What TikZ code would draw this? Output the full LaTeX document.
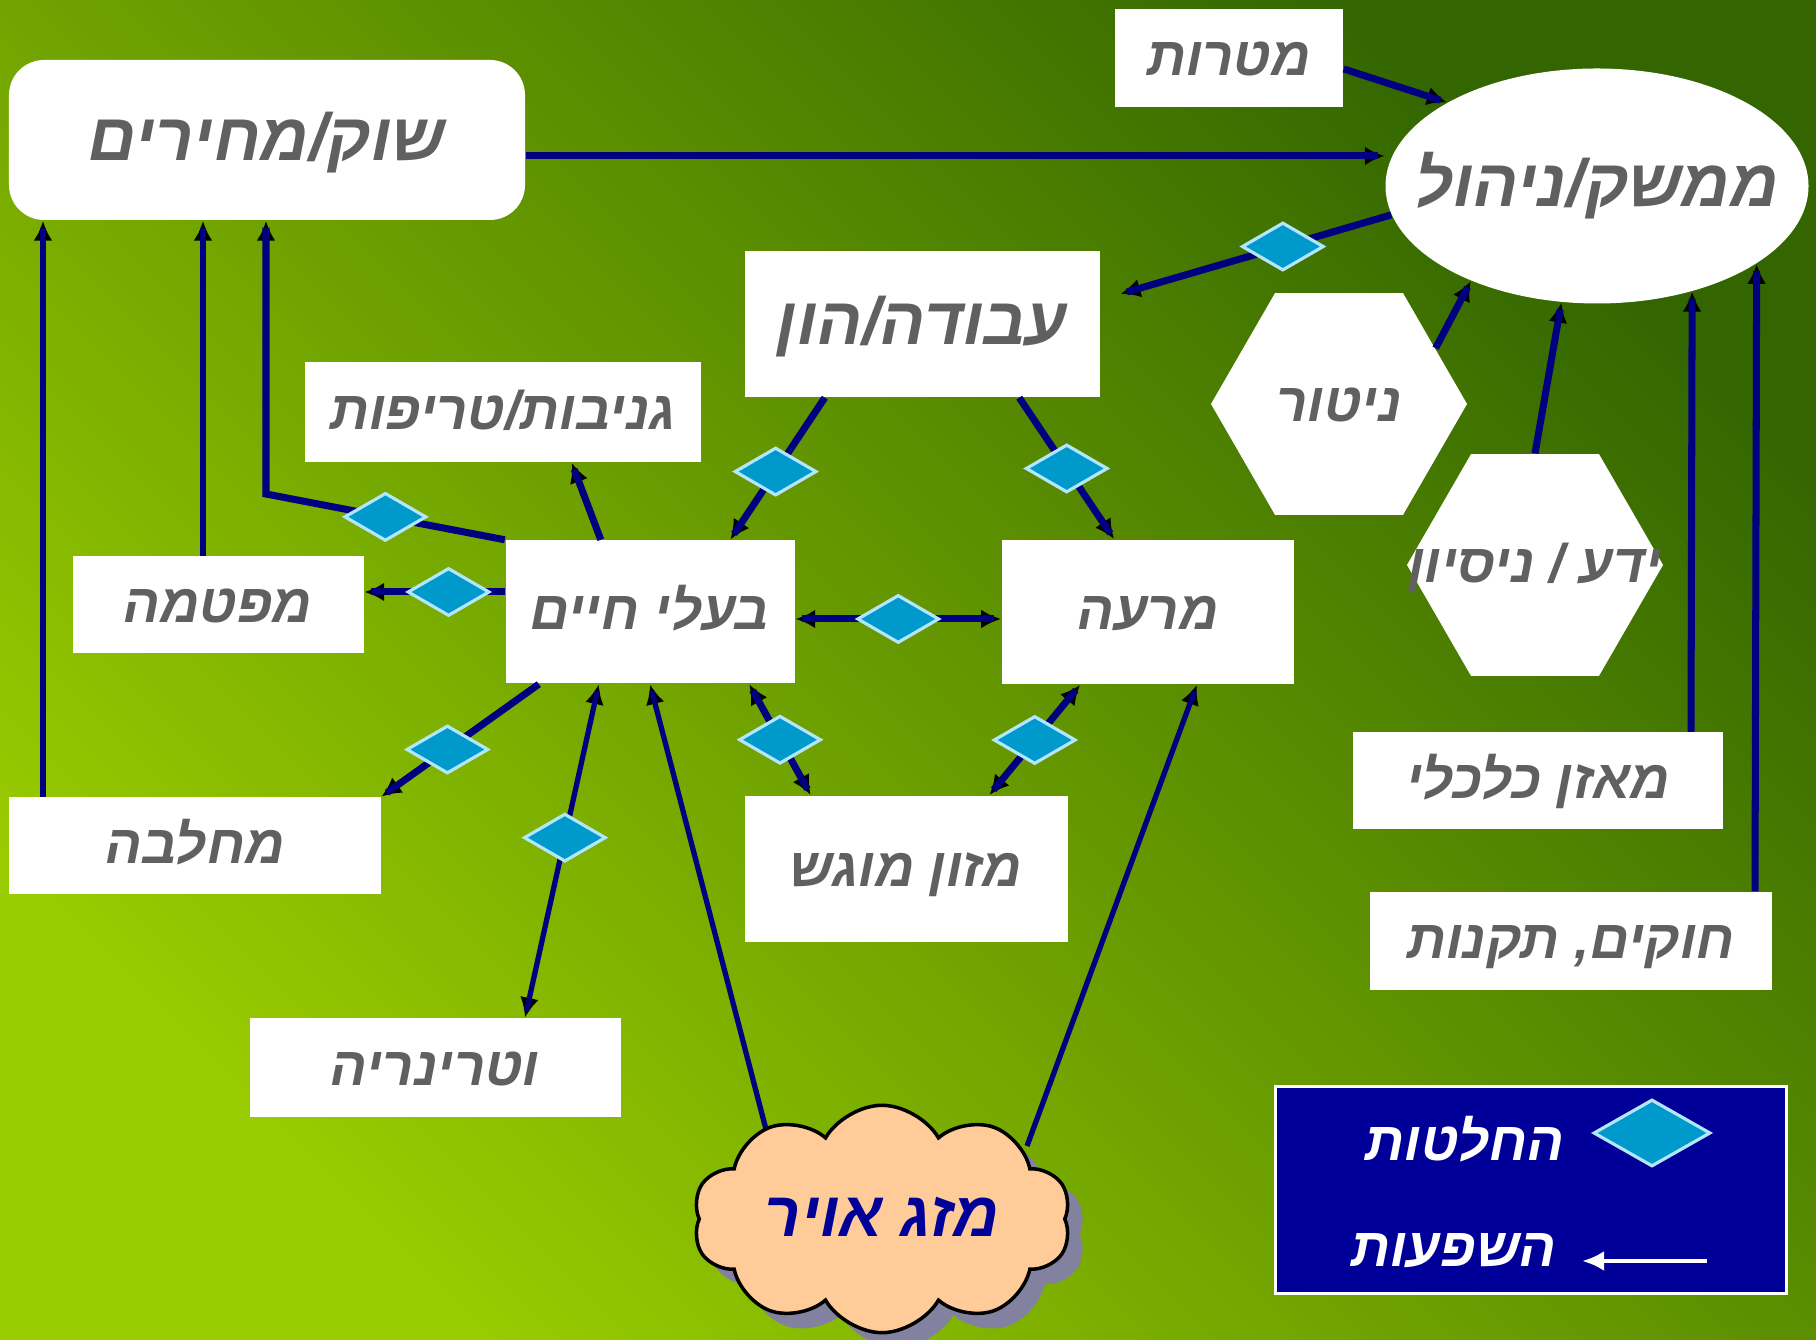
\documentclass[tikz,border=0pt]{standalone}
\usepackage{fontspec}
\usepackage{tikz}
\usetikzlibrary{positioning, shapes.geometric, shapes.symbols, arrows.meta, decorations.markings, shadows}
\newfontfamily\hebfont[Script=Hebrew]{Liberation Sans}
\TeXXeTstate=1
\newcommand{\heb}[1]{\hebfont\bfseries\itshape\beginR #1\endR}

\definecolor{bgdark}{RGB}{51,102,0}
\definecolor{bglight}{RGB}{153,204,0}
\definecolor{linkblue}{RGB}{0,0,128}
\definecolor{decblue}{RGB}{0,153,204}
\definecolor{labelgray}{RGB}{96,96,96}
\definecolor{cloudpeach}{RGB}{255,204,153}
\definecolor{shadowgray}{RGB}{130,130,160}
\definecolor{legendblue}{RGB}{0,0,153}

\pgfdeclarelayer{back}
\pgfdeclarelayer{lines}
\pgfsetlayers{back,lines,main}

\tikzstyle{Link} = [
    color=linkblue, line width=2pt,
    decoration={
        markings,
        mark=at position 1 with {
            \arrow{Latex[length=2mm, width=1.9mm]}
        }
    },
    shorten >= 2pt, preaction = {decorate}
]
\tikzstyle{BiLink} = [
    color=linkblue, line width=2pt,
    decoration={
        markings,
        mark=at position 0 with {
            \arrowreversed{Latex[length=2mm, width=1.9mm]}
        },
        mark=at position 1 with {
            \arrow{Latex[length=2mm, width=1.9mm]}
        }
    },
    shorten >= 2pt, shorten <= 2pt, preaction = {decorate}
]
\tikzstyle{KeyLink} = [
    draw=white, line width=1.3pt,
    decoration={
        markings,
        mark=at position 1 with {
            \arrow[white]{Latex[length=2.2mm, width=2mm]}
        }
    },
    shorten >= 2pt, preaction = {decorate}
]

\begin{document}
\begin{tikzpicture}[
box/.style={
    rectangle, fill=white, inner sep=0pt, text=labelgray,
    text height=1.05em, text depth=0.05em,
    font=\fontsize{15.5}{18}\selectfont
    },
large/.style={font=\fontsize{19}{22}\selectfont, text height=1.2em},
hexa/.style={
    regular polygon, regular polygon sides=6, fill=white,
    minimum size=2.56cm, inner sep=0pt, text=labelgray,
    text height=1.05em, text depth=0.05em,
    font=\fontsize{15.5}{18}\selectfont
    },
decision/.style={
    diamond, fill=decblue, draw=white!70!cyan, line width=0.9pt,
    minimum width=0.82cm, minimum height=0.48cm, inner sep=0pt
    },
thin link/.style={line width=1.5pt}
]

\useasboundingbox (0,0) rectangle (18.16,13.40);
\begin{pgfonlayer}{back}
\shade[shading=axis, top color=bgdark, bottom color=bglight, shading angle=-45] (0,0) rectangle (18.16,13.40);
\end{pgfonlayer}

\node[box, large, rounded corners=0.35cm, minimum width=5.16cm, minimum height=1.60cm] (1) at (2.67,12.00) {\heb{שוק/מחירים}};
\node[box, minimum width=2.28cm, minimum height=0.98cm] (2) at (12.29,12.82) {\heb{מטרות}};
\node[box, large, ellipse, minimum width=4.23cm, minimum height=2.35cm] (3) at (15.97,11.54) {\makebox[0pt]{\heb{ממשק/ניהול}}};
\node[box, large, minimum width=3.55cm, minimum height=1.46cm] (4) at (9.22,10.16) {\heb{עבודה/הון}};
\node[box, minimum width=3.96cm, minimum height=1.00cm] (5) at (5.03,9.28) {\heb{גניבות/טריפות}};
\node[hexa] (6) at (13.39,9.36) {\heb{ניטור}};
\node[hexa] (7) at (15.35,7.75) {\makebox[0pt]{\heb{ידע / ניסיון}}};
\node[box, minimum width=2.91cm, minimum height=0.97cm] (8) at (2.18,7.35) {\heb{מפטמה}};
\node[box, minimum width=2.89cm, minimum height=1.43cm] (9) at (6.50,7.28) {\heb{בעלי חיים}};
\node[box, minimum width=2.92cm, minimum height=1.44cm, right=2.06cm of 9] (10) {\heb{מרעה}};
\node[box, minimum width=3.70cm, minimum height=0.97cm] (11) at (15.38,5.59) {\heb{מאזן כלכלי}};
\node[box, minimum width=3.71cm, minimum height=0.97cm] (12) at (1.95,4.94) {\heb{מחלבה}};
\node[box, minimum width=3.23cm, minimum height=1.46cm] (13) at (9.06,4.71) {\heb{מזון מוגש}};
\node[box, minimum width=4.02cm, minimum height=0.98cm] (14) at (15.71,3.99) {\heb{חוקים, תקנות}};
\node[box, minimum width=3.71cm, minimum height=0.99cm] (15) at (4.35,2.72) {\heb{וטרינריה}};
\node[cloud, cloud puffs=10, cloud puff arc=120, aspect=1.87, fill=cloudpeach, draw=black, line width=1pt,
    minimum width=3.78cm, minimum height=2.02cm, inner sep=0pt, text=legendblue,
    text height=1.05em, text depth=0.05em, font=\fontsize{18}{21}\selectfont,
    drop shadow={shadow xshift=1.5mm, shadow yshift=-1.5mm, fill=shadowgray, opacity=1}] (16) at (8.82,1.21) {\heb{מזג אויר}};

\node[rectangle, fill=legendblue, draw=white, line width=0.6pt, minimum width=5.11cm, minimum height=2.07cm] (17) at (15.31,1.50) {};
\node[decision, minimum width=1.17cm, minimum height=0.67cm] (d11) at (16.52,2.07) {};
\node[text=white, font=\fontsize{15.5}{18}\selectfont] (18) at (14.65,2.01) {\heb{החלטות}};
\node[text=white, font=\fontsize{15.5}{18}\selectfont] (19) at (14.54,0.89) {\heb{השפעות}};
\coordinate (a1) at (17.07,0.79);
\coordinate (a2) at (15.82,0.79);
\draw[KeyLink] (a1) -- (a2);

\draw[Link] ([yshift=-1.6mm]1.east) -- ([yshift=-1.6mm]1.east -| 3.west);
\draw[Link] ([yshift=-1.1mm]2.east) -- (3.north west);
\draw[Link] (3.188) -- node[decision, pos=.4] (d1) {} ([xshift=2mm, yshift=3mm]4.east);
\draw[Link] (6.30) -- (3.217);
\draw[Link] (7.north) -- (3.253);
\draw[Link] ([xshift=15.3mm]11.north) -- (3.312);
\draw[Link] ([xshift=18.4mm]14.north) -- (3.334);

\draw[Link] ([xshift=8.1mm]4.south west) -- node[decision, pos=.52] (d2) {} ([xshift=-6.5mm]9.north east);
\draw[Link] ([xshift=-8.1mm]4.south east) -- node[decision, pos=.5] (d3) {} ([xshift=11.3mm]10.north west);
\draw[Link] ([xshift=9.6mm]9.north west) -- ([xshift=-13mm]5.south east);

\coordinate (b1) at (2.66,8.46);
\draw[Link] (9.north west) -- node[decision, pos=.5] (d4) {} (b1) -- (b1 |- 1.south);
\draw[Link, thin link] ([xshift=-1.5mm]8.north) -- ([xshift=-1.5mm]8.north |- 1.south);
\draw[Link, thin link] ([xshift=-15.2mm]12.north) -- ([xshift=-15.2mm]12.north |- 1.south);
\draw[Link] ([yshift=2mm]9.west) -- node[decision, pos=.4] (d5) {} ([yshift=2mm]9.west -| 8.east);

\draw[BiLink] ([yshift=-0.7mm]9.east) -- node[decision] (d6) {} ([yshift=-0.7mm]9.east -| 10.west);
\draw[Link] ([xshift=3.4mm]9.south west) -- node[decision, pos=.58] (d7) {} (12.north east);
\draw[BiLink, thin link] ([xshift=9.4mm]9.south west) -- node[decision, pos=.46] (d8) {} ([xshift=9mm]15.north);
\draw[BiLink] ([xshift=-4.6mm]9.south east) -- node[decision] (d9) {} ([xshift=6.7mm]13.north west);
\draw[BiLink] ([xshift=7.9mm]10.south west) -- node[decision] (d10) {} ([xshift=-7.9mm]13.north east);

\begin{pgfonlayer}{lines}
\draw[Link, thin link] ([xshift=-11.3mm, yshift=7.8mm]16.center) -- (9.south);
\draw[Link, thin link] ([xshift=14.5mm, yshift=7.3mm]16.center) -- ([xshift=4.9mm]10.south);
\end{pgfonlayer}

\end{tikzpicture}
\end{document}
